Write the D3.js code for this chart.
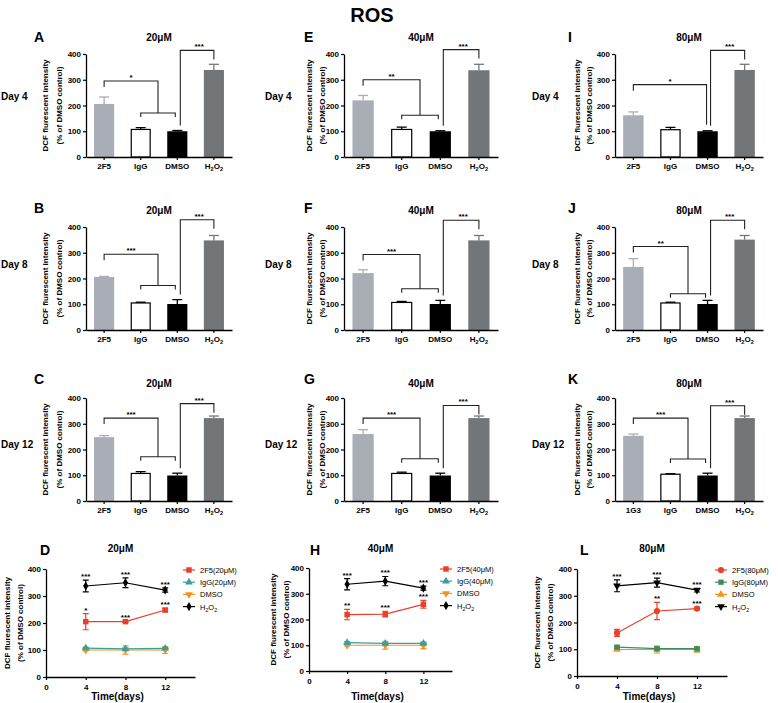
<!DOCTYPE html>
<html>
<head>
<meta charset="utf-8">
<script src="https://cdn.jsdelivr.net/npm/d3@7"></script>
<style>
  body { margin: 0; background: #fff; }
  svg text { font-family: Arial, "Liberation Sans", sans-serif; }
</style>
</head>
<body>
<svg id="fig" width="778" height="703"></svg>
<script>
// ---- data ----
var doses = ["20μM", "40μM", "80μM"];
var dayNames = ["Day 4", "Day 8", "Day 12"];
var letters = [["A", "B", "C", "D"], ["E", "F", "G", "H"], ["I", "J", "K", "L"]];
var groupsStd = ["2F5", "IgG", "DMSO", "H2O2"];
var groupsK = ["1G3", "IgG", "DMSO", "H2O2"];

// bar means [dose][day][group]
var barMean = [
  [[206, 107, 100, 338], [206, 105, 101, 348], [248, 107, 99, 322]],
  [[220, 107, 100, 337], [221, 107, 101, 348], [260, 107, 99, 322]],
  [[162, 106, 100, 338], [245, 105, 101, 351], [253, 104, 99, 322]]
];
var barErr = [
  [[27, 7, 3, 22], [2, 3, 17, 19], [6, 7, 9, 8]],
  [[19, 9, 2, 23], [13, 4, 14, 19], [17, 5, 9, 8]],
  [[13, 9, 2, 22], [32, 3, 14, 16], [7, 2, 9, 8]]
];
var sigLeft = [["*", "***", "***"], ["**", "***", "***"], ["*", "**", "***"]];
var sigRight = [["***", "***", "***"], ["***", "***", "***"], ["***", "***", "***"]];
// bracket levels in y units: [upper, lower (null = none), right]
var bracketLevel = [
  [[295, 171, 414], [294, 173, 428], [322, 172, 378]],
  [[300, 162, 417], [293, 160, 426], [322, 164, 371]],
  [[281, null, 414], [324, 141, 426], [322, 163, 370]]
];

// time course
var days = [4, 8, 12];
var seriesNames = [
  ["2F5(20μM)", "IgG(20μM)", "DMSO", "H2O2"],
  ["2F5(40μM)", "IgG(40μM)", "DMSO", "H2O2"],
  ["2F5(80μM)", "IgG(80μM)", "DMSO", "H2O2"]
];
var mean2F5 = [[205, 205, 248], [219, 221, 259], [161, 243, 252]];
var err2F5 = [[30, 3, 6], [20, 11, 15], [13, 32, 5]];
var meanIgG = [[107, 104, 106], [110, 107, 107], [108, 102, 102]];
var errIgG = [[4, 3, 3], [4, 3, 3], [4, 3, 3]];
var meanDMSO = [[100, 100, 100], [100, 100, 100], [99, 99, 99]];
var errDMSO = [[3, 15, 13], [3, 15, 13], [3, 13, 10]];
var meanH2O2 = [[337, 349, 322], [337, 349, 322], [337, 349, 321]];
var errH2O2 = [[22, 18, 8], [22, 18, 8], [22, 17, 7]];
var sig2F5 = [["*", "***", "***"], ["**", "***", "***"], ["", "**", "***"]];
var sigH2O2 = [["***", "***", "***"], ["***", "***", "***"], ["***", "***", "***"]];

// ---- layout ----
var svg = d3.select("#fig");
var barX0 = [86, 344, 615], barW = [146, 154, 148];
var barTop = [54, 227, 398], BAR_H = 103;
var barLabOff = [[-38, -24], [-32, -19], [-35, -23]];
var lineX0 = [46, 309, 577], lineW = [149, 143, 150];
var lineTop = [569, 568, 569], lineH = [108, 103, 107];
var lineLabOff = [[-36, -23], [-33, -20], [-37, -24]];
var barFill = ["#a9adb6", "#ffffff", "#000000", "#737679"];
var dayX = [1, 265, 532], dayY = [100, 268, 448];
var letterX = [34, 304, 568], letterY = [42, 213, 384, 555];
var titleY = [41, 214, 387, 552];

function subH2O2(sel, fs) {
  sel.each(function () {
    var t = d3.select(this);
    if (t.text() !== "H2O2") return;
    t.text(null);
    t.append("tspan").text("H");
    t.append("tspan").attr("font-size", fs * 0.7).attr("dy", 2).text("2");
    t.append("tspan").attr("dy", -2).text("O");
    t.append("tspan").attr("font-size", fs * 0.7).attr("dy", 2).text("2");
  });
}

function styleAxis(a, fs) {
  a.select(".domain").attr("stroke-width", 1.3);
  a.selectAll(".tick line").attr("stroke-width", 1.2);
  a.selectAll(".tick text").attr("font-size", fs).attr("font-weight", "bold")
    .attr("font-family", "Arial, 'Liberation Sans', sans-serif").attr("fill", "#000");
}

function yLabel(g, xAx, cy, off) {
  g.append("text").attr("transform", "translate(" + (xAx + off[0]) + "," + cy + ") rotate(-90)")
    .attr("text-anchor", "middle").attr("font-size", 8).attr("font-weight", "bold")
    .text("DCF flurescent intensity");
  g.append("text").attr("transform", "translate(" + (xAx + off[1]) + "," + cy + ") rotate(-90)")
    .attr("text-anchor", "middle").attr("font-size", 8).attr("font-weight", "bold")
    .text("(% of DMSO control)");
}

function drawBar(col, row) {
  var x0 = barX0[col], w = barW[col], top = barTop[row];
  var g = svg.append("g");
  var y = d3.scaleLinear().domain([0, 400]).range([top + BAR_H, top]);
  var cats = (col === 2 && row === 2) ? groupsK : groupsStd;
  var x = d3.scaleBand().domain(cats).range([x0, x0 + w]).paddingInner(0.45).paddingOuter(0.22);
  var data = cats.map(function (c, i) {
    return { c: c, i: i, m: barMean[col][row][i], e: barErr[col][row][i] };
  });

  g.selectAll("rect.bar").data(data).join("rect")
    .attr("x", function (d) { return x(d.c) + (d.i === 1 ? 0.6 : 0); })
    .attr("width", function (d) { return x.bandwidth() - (d.i === 1 ? 1.2 : 0); })
    .attr("y", function (d) { return y(d.m); })
    .attr("height", function (d) { return y(0) - y(d.m); })
    .attr("fill", function (d) { return barFill[d.i]; })
    .attr("stroke", function (d) { return d.i === 1 ? "#000" : "none"; })
    .attr("stroke-width", 1.2);

  var errCol = function (d) { return (d.i === 0 || d.i === 3) ? barFill[d.i] : "#000"; };
  var cx = function (d) { return x(d.c) + x.bandwidth() / 2; };
  g.selectAll("line.ev").data(data).join("line")
    .attr("x1", cx).attr("x2", cx)
    .attr("y1", function (d) { return y(d.m); })
    .attr("y2", function (d) { return y(d.m + d.e); })
    .attr("stroke", errCol).attr("stroke-width", 1.3);
  g.selectAll("line.ec").data(data).join("line")
    .attr("x1", function (d) { return cx(d) - 5; }).attr("x2", function (d) { return cx(d) + 5; })
    .attr("y1", function (d) { return y(d.m + d.e); })
    .attr("y2", function (d) { return y(d.m + d.e); })
    .attr("stroke", errCol).attr("stroke-width", 1.3);

  var ya = g.append("g").attr("transform", "translate(" + x0 + ",0)")
    .call(d3.axisLeft(y).tickValues([0, 100, 200, 300, 400]).tickSize(3).tickSizeOuter(0).tickPadding(2));
  styleAxis(ya, 8);
  var xa = g.append("g").attr("transform", "translate(0," + y(0) + ")")
    .call(d3.axisBottom(x).tickSize(3).tickSizeOuter(0).tickPadding(3));
  styleAxis(xa, 8);
  subH2O2(xa.selectAll(".tick text"), 8);

  // significance brackets
  var lv = bracketLevel[col][row];
  var c0 = cx(data[0]), c1 = cx(data[1]), c2 = cx(data[2]), c3 = cx(data[3]);
  var topOf = function (i) { return y(data[i].m + data[i].e); };
  var br = g.append("g").attr("fill", "none").attr("stroke", "#222").attr("stroke-width", 1.1);
  var rightEnd, rightFoot;
  if (lv[1] !== null) {
    var yl = y(lv[1]);
    br.append("path").attr("d", "M" + c1 + "," + (yl + 4) + "V" + yl + "H" + (c2 - 2) + "V" + (yl + 4));
    rightEnd = (c1 + c2 - 2) / 2;
    rightFoot = yl;
  } else {
    rightEnd = c2 - 1;
    rightFoot = topOf(2) - 6;
  }
  var yu = y(lv[0]);
  br.append("path").attr("d", "M" + c0 + "," + (yu + 6) + "V" + yu + "H" + rightEnd + "V" + rightFoot);
  var yr = y(lv[2]);
  br.append("path").attr("d", "M" + (c2 + 3) + "," + (topOf(2) - 5) + "V" + yr + "H" + c3 + "V" + (yr + 9));

  g.append("text").attr("x", (c0 + rightEnd) / 2).attr("y", yu - 1).attr("text-anchor", "middle")
    .attr("font-size", 8).attr("font-weight", "bold").text(sigLeft[col][row]);
  g.append("text").attr("x", (c2 + 3 + c3) / 2 + 2).attr("y", yr - 1).attr("text-anchor", "middle")
    .attr("font-size", 8).attr("font-weight", "bold").text(sigRight[col][row]);

  yLabel(g, x0, top + BAR_H / 2, barLabOff[col]);
  g.append("text").attr("x", x0 + w / 2).attr("y", titleY[row]).attr("text-anchor", "middle")
    .attr("font-size", 10).attr("font-weight", "bold").text(doses[col]);
  g.append("text").attr("x", letterX[col]).attr("y", letterY[row])
    .attr("font-size", 14).attr("font-weight", "bold").text(letters[col][row]);
  g.append("text").attr("x", dayX[col]).attr("y", dayY[row])
    .attr("font-size", 10).attr("font-weight", "bold").text(dayNames[row]);
}

function drawLine(col) {
  var x0 = lineX0[col], w = lineW[col], top = lineTop[col], h = lineH[col];
  var g = svg.append("g");
  var x = d3.scaleLinear().domain([0, 15]).range([x0, x0 + w]);
  var y = d3.scaleLinear().domain([0, 400]).range([top + h, top]);

  var colors, symbols;
  if (col < 2) {
    colors = ["#e8402b", "#3a9e9e", "#f6921e", "#000000"];
    symbols = [
      { t: d3.symbolSquare, s: 30, r: 0 },
      { t: d3.symbolTriangle, s: 26, r: 0 },
      { t: d3.symbolTriangle, s: 26, r: 180 },
      { t: d3.symbolDiamond, s: 24, r: 0 }
    ];
  } else {
    colors = ["#e8402b", "#3e8c5c", "#f6921e", "#000000"];
    symbols = [
      { t: d3.symbolCircle, s: 30, r: 0 },
      { t: d3.symbolSquare, s: 28, r: 0 },
      { t: d3.symbolTriangle, s: 26, r: 0 },
      { t: d3.symbolTriangle, s: 26, r: 180 }
    ];
  }
  var series = [
    { m: mean2F5[col], e: err2F5[col], sig: sig2F5[col] },
    { m: meanIgG[col], e: errIgG[col], sig: null },
    { m: meanDMSO[col], e: errDMSO[col], sig: null },
    { m: meanH2O2[col], e: errH2O2[col], sig: sigH2O2[col] }
  ];
  var drawOrder = [2, 1, 0, 3];
  var line = d3.line().x(function (d) { return x(d.d); }).y(function (d) { return y(d.v); });

  drawOrder.forEach(function (k) {
    var s = series[k];
    var pts = days.map(function (d, i) { return { d: d, v: s.m[i], e: s.e[i], sig: s.sig ? s.sig[i] : "" }; });
    var sg = g.append("g");
    sg.append("path").datum(pts).attr("d", line).attr("fill", "none")
      .attr("stroke", colors[k]).attr("stroke-width", 1.2);
    sg.selectAll("path.eb").data(pts).join("path")
      .attr("d", function (d) {
        var cx = x(d.d), a = y(d.v + d.e), b = y(d.v - d.e);
        return "M" + (cx - 3) + "," + a + "H" + (cx + 3) + "M" + cx + "," + a + "V" + b + "M" + (cx - 3) + "," + b + "H" + (cx + 3);
      })
      .attr("fill", "none").attr("stroke", colors[k]).attr("stroke-width", 1.2);
    sg.selectAll("path.mk").data(pts).join("path")
      .attr("d", d3.symbol().type(symbols[k].t).size(symbols[k].s))
      .attr("transform", function (d) { return "translate(" + x(d.d) + "," + y(d.v) + ") rotate(" + symbols[k].r + ")"; })
      .attr("fill", colors[k]);
    sg.selectAll("text.sig").data(pts).join("text")
      .attr("x", function (d) { return x(d.d); })
      .attr("y", function (d) { return y(d.v + d.e) - 1; })
      .attr("text-anchor", "middle").attr("font-size", 8).attr("font-weight", "bold")
      .text(function (d) { return d.sig; });
  });

  var ya = g.append("g").attr("transform", "translate(" + x0 + ",0)")
    .call(d3.axisLeft(y).tickValues([0, 100, 200, 300, 400]).tickSize(3).tickSizeOuter(0).tickPadding(2));
  styleAxis(ya, 8);
  var xa = g.append("g").attr("transform", "translate(0," + y(0) + ")")
    .call(d3.axisBottom(x).tickValues([0, 4, 8, 12]).tickSize(3).tickSizeOuter(0).tickPadding(4));
  styleAxis(xa, 8);

  g.append("text").attr("x", x0 + w / 2 - 3).attr("y", 700).attr("text-anchor", "middle")
    .attr("font-size", 10).attr("font-weight", "bold").text("Time(days)");
  yLabel(g, x0, top + h / 2, lineLabOff[col]);
  g.append("text").attr("x", x0 + w / 2).attr("y", titleY[3]).attr("text-anchor", "middle")
    .attr("font-size", 10).attr("font-weight", "bold").text(doses[col]);
  g.append("text").attr("x", letterX[col] + (col === 2 ? 12 : 6)).attr("y", letterY[3])
    .attr("font-size", 14).attr("font-weight", "bold").text(letters[col][3]);

  // legend
  var lx = x0 + w - 12, ly = top + 1;
  seriesNames[col].forEach(function (nm, k) {
    var yy = ly + k * 12.2;
    g.append("line").attr("x1", lx).attr("x2", lx + 12).attr("y1", yy).attr("y2", yy)
      .attr("stroke", colors[k]).attr("stroke-width", 1.2);
    g.append("path").attr("d", d3.symbol().type(symbols[k].t).size(symbols[k].s))
      .attr("transform", "translate(" + (lx + 6) + "," + yy + ") rotate(" + symbols[k].r + ")")
      .attr("fill", colors[k]);
    var t = g.append("text").attr("x", lx + 17).attr("y", yy + 3).attr("font-size", 7.5).text(nm);
    subH2O2(t, 7.5);
  });
}

svg.append("text").attr("x", 372).attr("y", 22).attr("text-anchor", "middle")
  .attr("font-size", 20).attr("font-weight", "bold").text("ROS");

for (var c = 0; c < 3; c++) {
  for (var r = 0; r < 3; r++) drawBar(c, r);
  drawLine(c);
}
</script>
</body>
</html>
